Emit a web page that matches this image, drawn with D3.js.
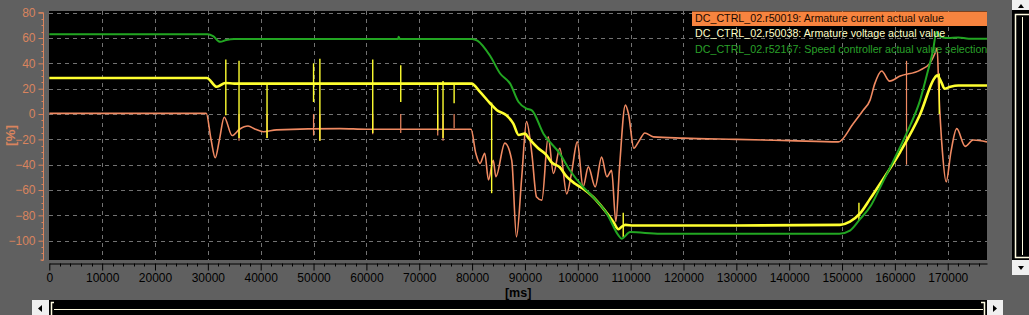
<!DOCTYPE html>
<html>
<head>
<meta charset="utf-8">
<script src="https://cdn.jsdelivr.net/npm/d3@7"></script>
<style>
  html, body { margin: 0; padding: 0; background: #606060; overflow: hidden; }
  svg { display: block; font-family: "Liberation Sans", Arial, sans-serif; }
</style>
</head>
<body>
<svg id="chart" width="1029" height="315"></svg>
<script>
// ---------- data (time in ms, values in %) ----------
const legendLabels = [
  "DC_CTRL_02.r50019: Armature current actual value",
  "DC_CTRL_02.r50038: Armature voltage actual value",
  "DC_CTRL_02.r52167: Speed controller actual value selection"
];
const xTicks = [0,10000,20000,30000,40000,50000,60000,70000,80000,90000,100000,110000,120000,130000,140000,150000,160000,170000];
const yTicks = [-100,-80,-60,-40,-20,0,20,40,60,80];

// Armature current (orange)
const currentT = [0,29700,30600,31400,32200,33100,34600,36000,37600,39000,40500,43000,55000,60000,70000,79800,80700,81500,82400,83100,84000,84500,86200,87500,88400,89400,90300,91300,92200,93200,94400,95400,96600,97900,98800,99900,101000,102000,103300,104500,105500,106400,107200,107900,109000,109600,110600,111500,112700,114300,120000,130000,140000,149300,152100,154000,155300,156200,157500,159000,161000,164700,166600,167600,168000,168300,169000,169700,170600,171700,173300,174800,177430];
const currentV = [0.5,0.5,-20,-34.5,-20,-2.5,-17,-12,-9.5,-12,-14,-12.5,-11.5,-12,-12,-12,-31,-39,-31,-52,-36.5,-49.5,-23,-36.5,-97,-49.5,-6,-31,-65.5,-68,-18,-47,-27,-63,-47,-22,-57.5,-41.7,-57.5,-34,-49.5,-44.5,-85,-42,7,0,-27,-22,-15,-18,-19,-20,-21,-22,-7.6,3,11,24,34,26,30,34.5,40,48,52,20,-30,-53.5,-30,-11.5,-25.5,-20.5,-22];
// spikes: time, high, low
const currentSpikeT  = [35900,41200,50000,51200,61200,66500,73500,74500,76600,162200];
const currentSpikeHi = [0,0,0,0,0,0,0,0,0,42];
const currentSpikeLo = [-21,-19,-17,-21,-16,-15,-17,-21,-11,-40];

// Armature voltage (yellow)
const voltageT = [0,29800,31700,33300,35000,79900,81500,83400,84700,86500,87800,88800,90000,90700,92500,94100,95000,96600,97900,99500,101000,102900,104800,106700,107700,108300,109000,110500,130000,149600,151500,153400,155300,157200,161000,164700,167600,168000,168800,169400,170500,172000,177430];
const voltageV = [28.5,28.5,21.5,24.5,24,24,17.5,8.5,3,-1,-7.5,-16.5,-15.5,-19,-27,-32.5,-38,-42,-49.5,-55,-59,-65.5,-74.5,-85,-91,-89,-87.5,-88,-88,-87.5,-85,-78.5,-67,-55,-30,-1,29,30.5,25,20,21.5,22.5,22.5];
const voltageSpikeT  = [33400,35900,41200,50000,51200,61200,66500,73500,74500,76600,83700,108600,153200,168400];
const voltageSpikeHi = [43,42,24,40,43.7,43,38.5,24,26,24,9,-78,-70,32];
const voltageSpikeLo = [-1,-19,-19,9.5,-21,-15,9.5,-13,-19,8.5,-62.5,-97,-84,0];

// Speed controller actual value (green)
const speedT = [0,30000,31000,32300,33500,35000,66000,66100,66300,80000,81000,83400,85300,87200,88800,90300,91300,93500,96600,98500,101000,102900,105500,107700,108300,109900,115600,130000,149500,151500,153400,155500,157200,159000,161000,163000,164700,166000,167200,167900,168600,170000,172000,174000,177430];
const speedV = [63,63,61.5,57,58.5,59.3,59.3,61,59.3,59.3,58,46,32,24,9.5,4.3,2.9,-15.5,-31.3,-44.4,-57.6,-65.5,-78.6,-95.8,-98.4,-93.2,-94.5,-94.5,-94.5,-92,-83,-72,-58,-43,-26,-8,10,30,50,65,61,60,60.5,59.5,59.5];

// ---------- drawing ----------
const svg = d3.select("#chart");
const L = 49.3, R = 987, T = 11, B = 260;
const x = d3.scaleLinear().domain([0, 177430]).range([L, R]);
const y = d3.scaleLinear().domain([-115.24, 81.34]).range([B, T]);

const cOrange = "#f08a62", cYellow = "#ffff30", cGreen = "#22a622", axisOrange = "#d9845e";

// plot background
svg.append("rect").attr("x", 49).attr("y", T).attr("width", R - 49).attr("height", B - T).attr("fill", "#000");

svg.append("defs").append("clipPath").attr("id", "clip")
  .append("rect").attr("x", 49).attr("y", T).attr("width", R - 49).attr("height", B - T);

// grid
const grid = svg.append("g").attr("stroke", "#727272").attr("stroke-dasharray", "4,4").attr("stroke-width", 1);
grid.selectAll("line.v").data(xTicks.filter(d => d > 0)).join("line")
  .attr("x1", d => Math.round(x(d)) + 0.5).attr("x2", d => Math.round(x(d)) + 0.5)
  .attr("y1", T).attr("y2", B);
grid.selectAll("line.h").data(yTicks).join("line")
  .attr("y1", d => Math.round(y(d)) + 0.5).attr("y2", d => Math.round(y(d)) + 0.5)
  .attr("x1", 49).attr("x2", R);

const plot = svg.append("g").attr("clip-path", "url(#clip)");

function drawSeries(ts, vs, sT, sHi, sLo, color, width, spikeW) {
  const pts = ts.map((t, i) => [t, vs[i]]);
  const line = d3.line().x(d => x(d[0])).y(d => y(d[1])).curve(d3.curveMonotoneX);
  plot.append("path").datum(pts).attr("d", line)
    .attr("fill", "none").attr("stroke", color).attr("stroke-width", width)
    .attr("stroke-linejoin", "round");
  if (sT) {
    plot.append("g").selectAll("line").data(sT.map((t, i) => [t, sHi[i], sLo[i]])).join("line")
      .attr("x1", d => x(d[0])).attr("x2", d => x(d[0]))
      .attr("y1", d => y(d[1])).attr("y2", d => y(d[2]))
      .attr("stroke", color).attr("stroke-width", spikeW);
  }
}
drawSeries(currentT, currentV, currentSpikeT, currentSpikeHi, currentSpikeLo, cOrange, 1.6, 1.2);
drawSeries(voltageT, voltageV, voltageSpikeT, voltageSpikeHi, voltageSpikeLo, cYellow, 2.6, 1.4);
drawSeries(speedT, speedV, null, null, null, cGreen, 2, 1);

// legend
const lg = svg.append("g");
lg.append("rect").attr("x", 692).attr("y", 11.5).attr("width", R - 692).attr("height", 14.5).attr("fill", "#f7843f");
const legColors = ["#1a0a00", "#ffffc8", "#2aa02a"];
lg.append("g").attr("clip-path", "url(#clip)").selectAll("text").data(legendLabels).join("text")
  .attr("x", 695).attr("y", (d, i) => 22 + i * 15.3)
  .attr("font-size", 10.7).attr("fill", (d, i) => legColors[i]).text(d => d);

// y axis
const yMinor = d3.range(-115, 81, 5).filter(v => v % 20 !== 0);
const ya = svg.append("g").attr("transform", "translate(43.5,0)");
ya.call(d3.axisLeft(y).tickValues(yTicks).tickSize(5).tickSizeOuter(0).tickPadding(3).tickFormat(d3.format("d")));
ya.selectAll(".tick text").attr("fill", axisOrange).attr("font-size", 12).attr("font-family", "Liberation Sans, Arial, sans-serif");
ya.selectAll(".tick line").attr("stroke", axisOrange);
ya.select(".domain").attr("stroke", axisOrange).attr("d", `M-3,${y(-115.24)}H0V${y(80)}H-5`);
ya.append("g").selectAll("line").data(yMinor).join("line")
  .attr("x1", -2).attr("x2", 0).attr("y1", d => Math.round(y(d)) + 0.5).attr("y2", d => Math.round(y(d)) + 0.5)
  .attr("stroke", axisOrange);
svg.append("text").attr("transform", `translate(15,${(T + B) / 2}) rotate(-90)`)
  .attr("text-anchor", "middle").attr("font-size", 13.5).attr("font-weight", "bold")
  .attr("fill", axisOrange).text("[%]");

// x axis
const xMinor = d3.range(0, 177430, 2000).filter(v => v % 10000 !== 0);
const xa = svg.append("g").attr("transform", "translate(0,263.5)");
xa.call(d3.axisBottom(x).tickValues(xTicks).tickSize(7).tickSizeOuter(0).tickPadding(3).tickFormat(d3.format("d")));
xa.selectAll(".tick text").attr("fill", "#000").attr("font-size", 12).attr("font-family", "Liberation Sans, Arial, sans-serif");
xa.selectAll(".tick line").attr("stroke", "#000");
xa.select(".domain").attr("stroke", "#000");
xa.append("g").selectAll("line").data(xMinor).join("line")
  .attr("x1", d => Math.round(x(d)) + 0.5).attr("x2", d => Math.round(x(d)) + 0.5).attr("y1", 0).attr("y2", 3)
  .attr("stroke", "#000");
svg.append("text").attr("x", (L + R) / 2).attr("y", 297).attr("text-anchor", "middle")
  .attr("font-size", 12.5).attr("font-weight", "bold").attr("fill", "#000").text("[ms]");

// scrollbars (decoration)
const sb = svg.append("g");
// vertical
sb.append("rect").attr("x", 1012).attr("y", 0).attr("width", 17).attr("height", 10).attr("fill", "#f0f0f0");
sb.append("path").attr("d", "M1018,8L1021,4L1024,8Z").attr("fill", "#000");
sb.append("rect").attr("x", 1012).attr("y", 10).attr("width", 17).attr("height", 250).attr("fill", "#000");
sb.append("path").attr("d", "M1029,14.5H1015.5V257.5H1029").attr("fill", "none").attr("stroke", "#fffbe0").attr("stroke-width", 1.5);
sb.append("line").attr("x1", 1022.5).attr("x2", 1022.5).attr("y1", 17).attr("y2", 255).attr("stroke", "#fffbe0");
sb.append("rect").attr("x", 1012).attr("y", 260).attr("width", 17).attr("height", 15).attr("fill", "#f0f0f0");
sb.append("path").attr("d", "M1018,266L1024,266L1021,270Z").attr("fill", "#000");
// horizontal
sb.append("rect").attr("x", 32).attr("y", 300).attr("width", 17).attr("height", 15).attr("fill", "#f0f0f0");
sb.append("path").attr("d", "M42,305L42,312L38,308.5Z").attr("fill", "#000");
sb.append("rect").attr("x", 49).attr("y", 300).attr("width", 938).attr("height", 15).attr("fill", "#000");
sb.append("path").attr("d", "M54,302.5H51.5V315").attr("fill", "none").attr("stroke", "#fffbe0").attr("stroke-width", 1.5);
sb.append("path").attr("d", "M981,302.5H984.5V315").attr("fill", "none").attr("stroke", "#fffbe0").attr("stroke-width", 1.5);
sb.append("line").attr("x1", 54).attr("x2", 983).attr("y1", 309.5).attr("y2", 309.5).attr("stroke", "#fffbe0");
sb.append("rect").attr("x", 987).attr("y", 300).attr("width", 16).attr("height", 15).attr("fill", "#f0f0f0");
sb.append("path").attr("d", "M993,305L993,312L997,308.5Z").attr("fill", "#000");
</script>
</body>
</html>
